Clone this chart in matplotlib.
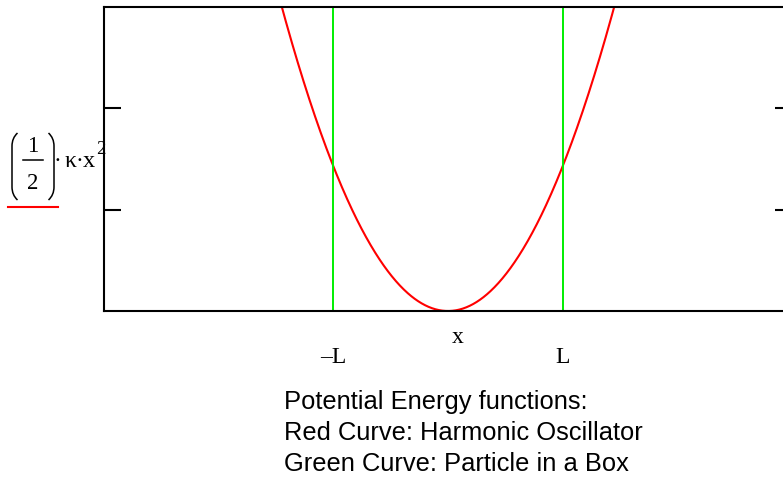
import numpy as np
import matplotlib
matplotlib.use("Agg")
import matplotlib.pyplot as plt
from matplotlib.lines import Line2D
from matplotlib.path import Path
from matplotlib.patches import PathPatch
from matplotlib.transforms import Affine2D

# values
L = 1.0                  # box half-width
kappa = 1.0              # spring constant
x_range = [-3.0, 3.0]
y_range = [0.0, 1.05]
y_ticks = [0.35, 0.70]
x_tick_pos = [-L, L]
x_tick_labels = ["\u2013L", "L"]
caption = ["Potential Energy functions:",
           "Red Curve: Harmonic Oscillator",
           "Green Curve: Particle in a Box"]

x = np.linspace(x_range[0], x_range[1], 1201)
v = 0.5 * kappa * x ** 2

W, H = 783, 479
fig = plt.figure(figsize=(W / 100, H / 100), dpi=100)
# pixel coords, origin top-left
px = Affine2D().scale(1 / W, -1 / H).translate(0, 1) + fig.transFigure

ax = fig.add_axes([104 / W, 1 - 311 / H, 688 / W, 304 / H])
ax.plot(x, v, color="#ff0000", lw=1.5)
ax.axvline(-L, color="#00ee00", lw=1.4)
ax.axvline(L, color="#00ee00", lw=1.4)

ax.set_xlim(x_range)
ax.set_ylim(y_range)
for s in ["left", "top", "bottom"]:
    ax.spines[s].set_linewidth(1.5)
ax.spines["right"].set_visible(False)

ax.set_yticks(y_ticks)
ax.set_yticklabels([])
ax.tick_params(axis="y", direction="in", length=12, width=1.5, right=True)
ax.set_xticks(x_tick_pos)
ax.set_xticklabels(x_tick_labels, fontsize=17, family="Liberation Serif")
ax.tick_params(axis="x", length=0, pad=26)

serif = dict(family="Liberation Serif", color="black")
fig.text(458, 338, "x", transform=px, ha="center", va="center", fontsize=17, **serif)

# y label: (1/2)·κ·x²  drawn in pieces, Mathcad style
fig.text(33, 152, "1", transform=px, ha="center", va="baseline", fontsize=16.5, **serif)
fig.text(33, 189, "2", transform=px, ha="center", va="baseline", fontsize=16.5, **serif)
fig.add_artist(Line2D([23, 43], [160, 160], transform=px, color="black", lw=1.1))
lp = Path([(17.5, 133), (12, 138), (12, 146), (12, 187), (12, 195), (17.5, 200)],
          [Path.MOVETO, Path.CURVE3, Path.CURVE3, Path.LINETO, Path.CURVE3, Path.CURVE3])
rp = Path([(48.5, 133), (54, 138), (54, 146), (54, 187), (54, 195), (48.5, 200)],
          [Path.MOVETO, Path.CURVE3, Path.CURVE3, Path.LINETO, Path.CURVE3, Path.CURVE3])
for p in (lp, rp):
    fig.add_artist(PathPatch(p, transform=px, fill=False, lw=1.1, ec="black"))
fig.text(57.5, 167, "\u00b7", transform=px, ha="center", va="baseline", fontsize=17, **serif)
fig.text(64.5, 167, "\u03ba", transform=px, ha="left", va="baseline", fontsize=17, **serif)
fig.text(79.5, 167, "\u00b7", transform=px, ha="center", va="baseline", fontsize=17, **serif)
fig.text(83, 167, "x", transform=px, ha="left", va="baseline", fontsize=17.5, **serif)
fig.text(96.5, 154, "2", transform=px, ha="left", va="baseline", fontsize=13.5, **serif)
fig.add_artist(Line2D([8, 58], [207, 207], transform=px, color="#ff0000", lw=1.5))

for i, line in enumerate(caption):
    fig.text(284, 402 + 31 * i, line, transform=px, ha="left", va="center",
             fontsize=18.4, family="Liberation Sans")

fig.savefig("out.png", dpi=100)
